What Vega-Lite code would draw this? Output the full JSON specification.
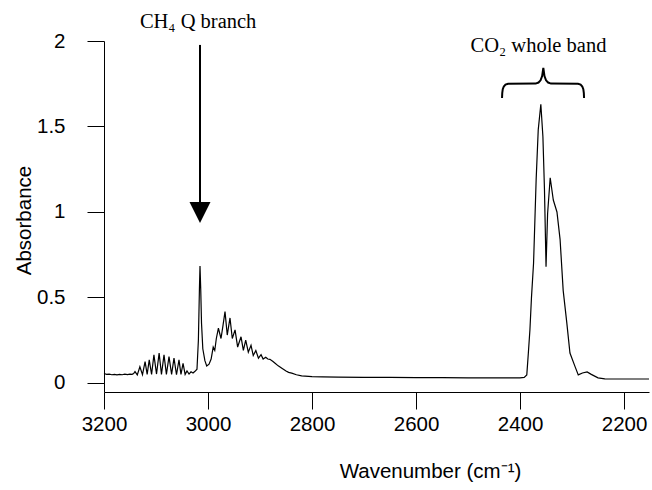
{
  "$schema": "https://vega.github.io/schema/vega-lite/v6.json",
  "width": 545,
  "height": 351,
  "autosize": {"type": "none"},
  "padding": {"left": 104, "top": 41, "right": 3, "bottom": 98},
  "background": "white",
  "config": {
    "view": {"stroke": null},
    "axis": {"grid": false, "domainColor": "black", "tickColor": "black", "labelColor": "black", "titleColor": "black", "labelFont": "Liberation Sans", "titleFont": "Liberation Sans", "labelFontSize": 20.5, "titleFontSize": 20.5, "titleFontWeight": "normal", "tickSize": 17, "domainWidth": 1, "tickWidth": 1}
  },
  "datasets": {
    "spectrum": [
      {"wn": 3200, "abs": 0.055}, {"wn": 3195, "abs": 0.05}, {"wn": 3190, "abs": 0.052}, {"wn": 3185, "abs": 0.048},
      {"wn": 3180, "abs": 0.05}, {"wn": 3175, "abs": 0.047}, {"wn": 3170, "abs": 0.05}, {"wn": 3165, "abs": 0.048},
      {"wn": 3160, "abs": 0.051}, {"wn": 3155, "abs": 0.049}, {"wn": 3150, "abs": 0.052}, {"wn": 3146, "abs": 0.05},
      {"wn": 3143, "abs": 0.055}, {"wn": 3140.4, "abs": 0.066}, {"wn": 3136, "abs": 0.047}, {"wn": 3131, "abs": 0.095},
      {"wn": 3126, "abs": 0.048}, {"wn": 3121, "abs": 0.125}, {"wn": 3117, "abs": 0.05}, {"wn": 3113, "abs": 0.135},
      {"wn": 3108.5, "abs": 0.05}, {"wn": 3104, "abs": 0.164}, {"wn": 3099, "abs": 0.052}, {"wn": 3094, "abs": 0.174},
      {"wn": 3089.5, "abs": 0.05}, {"wn": 3084.6, "abs": 0.164}, {"wn": 3080, "abs": 0.05}, {"wn": 3075, "abs": 0.154},
      {"wn": 3070, "abs": 0.05}, {"wn": 3065.4, "abs": 0.145}, {"wn": 3060.6, "abs": 0.048}, {"wn": 3055.8, "abs": 0.135},
      {"wn": 3052, "abs": 0.05}, {"wn": 3048, "abs": 0.115}, {"wn": 3044, "abs": 0.05}, {"wn": 3040.4, "abs": 0.07},
      {"wn": 3036.5, "abs": 0.052}, {"wn": 3032.7, "abs": 0.065}, {"wn": 3028.8, "abs": 0.058}, {"wn": 3025, "abs": 0.068},
      {"wn": 3021.2, "abs": 0.08}, {"wn": 3018.5, "abs": 0.25}, {"wn": 3016.5, "abs": 0.55}, {"wn": 3015.4, "abs": 0.684},
      {"wn": 3014, "abs": 0.55}, {"wn": 3012.5, "abs": 0.35}, {"wn": 3010, "abs": 0.2}, {"wn": 3006, "abs": 0.13},
      {"wn": 3002.5, "abs": 0.099}, {"wn": 2998, "abs": 0.11}, {"wn": 2994, "abs": 0.14}, {"wn": 2990, "abs": 0.21},
      {"wn": 2987, "abs": 0.19}, {"wn": 2984, "abs": 0.26}, {"wn": 2980, "abs": 0.32}, {"wn": 2975, "abs": 0.26},
      {"wn": 2971, "abs": 0.34}, {"wn": 2967.3, "abs": 0.417}, {"wn": 2963, "abs": 0.28}, {"wn": 2957.7, "abs": 0.38},
      {"wn": 2953.3, "abs": 0.26}, {"wn": 2948, "abs": 0.31}, {"wn": 2943, "abs": 0.21}, {"wn": 2936.5, "abs": 0.27},
      {"wn": 2932, "abs": 0.19}, {"wn": 2927.5, "abs": 0.25}, {"wn": 2922.5, "abs": 0.18}, {"wn": 2917.3, "abs": 0.22},
      {"wn": 2913, "abs": 0.16}, {"wn": 2908, "abs": 0.19}, {"wn": 2903, "abs": 0.145}, {"wn": 2898, "abs": 0.165},
      {"wn": 2894, "abs": 0.14}, {"wn": 2889, "abs": 0.15}, {"wn": 2885, "abs": 0.14}, {"wn": 2881, "abs": 0.138},
      {"wn": 2875, "abs": 0.125}, {"wn": 2871, "abs": 0.115}, {"wn": 2865, "abs": 0.1}, {"wn": 2858, "abs": 0.086},
      {"wn": 2850, "abs": 0.07}, {"wn": 2845, "abs": 0.062}, {"wn": 2839, "abs": 0.057}, {"wn": 2830, "abs": 0.048},
      {"wn": 2820, "abs": 0.041}, {"wn": 2800, "abs": 0.037}, {"wn": 2780, "abs": 0.035}, {"wn": 2750, "abs": 0.034},
      {"wn": 2700, "abs": 0.033}, {"wn": 2650, "abs": 0.032}, {"wn": 2600, "abs": 0.031}, {"wn": 2550, "abs": 0.031},
      {"wn": 2500, "abs": 0.03}, {"wn": 2450, "abs": 0.03}, {"wn": 2400, "abs": 0.03}, {"wn": 2392, "abs": 0.032},
      {"wn": 2387, "abs": 0.047}, {"wn": 2384, "abs": 0.175}, {"wn": 2381, "abs": 0.31}, {"wn": 2378, "abs": 0.5},
      {"wn": 2374, "abs": 0.7}, {"wn": 2369, "abs": 1.19}, {"wn": 2365, "abs": 1.48}, {"wn": 2360, "abs": 1.63},
      {"wn": 2356, "abs": 1.44}, {"wn": 2353, "abs": 1.13}, {"wn": 2350, "abs": 0.68}, {"wn": 2347, "abs": 0.99},
      {"wn": 2342, "abs": 1.2}, {"wn": 2336, "abs": 1.07}, {"wn": 2329, "abs": 1.0}, {"wn": 2323, "abs": 0.84},
      {"wn": 2317, "abs": 0.54}, {"wn": 2310, "abs": 0.35}, {"wn": 2304, "abs": 0.175}, {"wn": 2294, "abs": 0.094},
      {"wn": 2288, "abs": 0.047}, {"wn": 2280, "abs": 0.058}, {"wn": 2271, "abs": 0.064}, {"wn": 2263, "abs": 0.05},
      {"wn": 2250, "abs": 0.03}, {"wn": 2237, "abs": 0.024}, {"wn": 2220, "abs": 0.023}, {"wn": 2200, "abs": 0.023},
      {"wn": 2180, "abs": 0.023}, {"wn": 2152, "abs": 0.023}
    ],
    "arrow": [{"wn": 3015.4, "top": 1.977, "bottom": 1.05, "head": 0.997}],
    "labels": [
      {"wn": 3019, "y": 2.076, "text": "CH₄ Q branch"},
      {"wn": 2364.5, "y": 1.936, "text": "CO₂ whole band"}
    ],
    "brace": [
      {"i": 1, "wn": 2434.6, "y": 1.667}, {"i": 2, "wn": 2434.2, "y": 1.695}, {"i": 3, "wn": 2433.2, "y": 1.718},
      {"i": 4, "wn": 2431.2, "y": 1.734}, {"i": 5, "wn": 2428, "y": 1.745}, {"i": 6, "wn": 2423, "y": 1.75},
      {"i": 7, "wn": 2370, "y": 1.751}, {"i": 8, "wn": 2364.5, "y": 1.757}, {"i": 9, "wn": 2360.5, "y": 1.77},
      {"i": 10, "wn": 2357.5, "y": 1.795}, {"i": 11, "wn": 2355.2, "y": 1.842}, {"i": 12, "wn": 2353, "y": 1.795},
      {"i": 13, "wn": 2350, "y": 1.77}, {"i": 14, "wn": 2346, "y": 1.757}, {"i": 15, "wn": 2340.5, "y": 1.751},
      {"i": 16, "wn": 2288.5, "y": 1.75}, {"i": 17, "wn": 2283.5, "y": 1.745}, {"i": 18, "wn": 2280.3, "y": 1.734},
      {"i": 19, "wn": 2278.3, "y": 1.718}, {"i": 20, "wn": 2277.3, "y": 1.695}, {"i": 21, "wn": 2276.9, "y": 1.667}
    ]
  },
  "layer": [
    {
      "data": {"name": "spectrum"},
      "mark": {"type": "line", "color": "black", "strokeWidth": 1.2},
      "encoding": {
        "x": {"field": "wn", "type": "quantitative",
          "scale": {"domain": [2152, 3200], "reverse": true, "nice": false, "zero": false},
          "axis": {"values": [3200, 3000, 2800, 2600, 2400, 2200], "format": "d", "labelPadding": 5, "labelFlush": false,
            "title": "Wavenumber (cm⁻¹)", "titleX": 326, "titleY": 85, "titleBaseline": "alphabetic", "titleAnchor": null, "titleAlign": "center"}},
        "y": {"field": "abs", "type": "quantitative",
          "scale": {"domain": [-0.053, 2], "nice": false, "zero": false},
          "axis": {"values": [0, 0.5, 1, 1.5, 2], "format": "~g", "labelPadding": 22, "labelFlush": false,
            "title": "Absorbance", "titleX": -74, "titleY": 179, "titleAngle": -90, "titleBaseline": "alphabetic", "titleAlign": "center"}}
      }
    },
    {
      "data": {"name": "arrow"},
      "mark": {"type": "rule", "color": "black", "strokeWidth": 2},
      "encoding": {
        "x": {"field": "wn", "type": "quantitative"},
        "y": {"field": "top", "type": "quantitative"},
        "y2": {"field": "bottom"}
      }
    },
    {
      "data": {"name": "arrow"},
      "mark": {"type": "point", "shape": "M-1,-1L1,-1L0,1Z", "filled": true, "color": "black", "opacity": 1, "size": 441, "strokeWidth": 0},
      "encoding": {
        "x": {"field": "wn", "type": "quantitative"},
        "y": {"field": "head", "type": "quantitative"}
      }
    },
    {
      "data": {"name": "brace"},
      "mark": {"type": "line", "color": "black", "strokeWidth": 2, "clip": false},
      "encoding": {
        "x": {"field": "wn", "type": "quantitative"},
        "y": {"field": "y", "type": "quantitative"},
        "order": {"field": "i", "type": "quantitative"}
      }
    },
    {
      "data": {"name": "labels"},
      "mark": {"type": "text", "font": "Liberation Serif", "fontSize": 20.5, "color": "black", "align": "center", "baseline": "alphabetic"},
      "encoding": {
        "x": {"field": "wn", "type": "quantitative"},
        "y": {"field": "y", "type": "quantitative"},
        "text": {"field": "text"}
      }
    }
  ]
}
